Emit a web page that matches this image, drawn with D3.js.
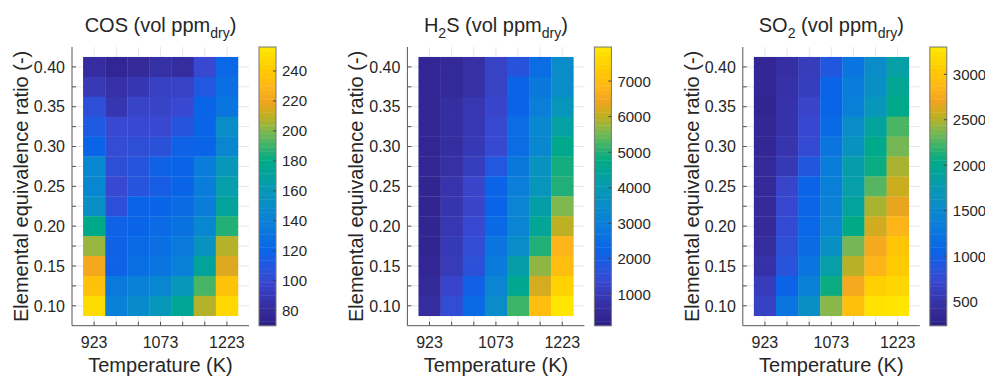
<!DOCTYPE html>
<html>
<head>
<meta charset="utf-8">
<script src="https://cdn.jsdelivr.net/npm/d3@7"></script>
<style>
  body { margin: 0; background: #fff; }
  text { font-family: "Liberation Sans", Arial, sans-serif; fill: #262626; }
</style>
</head>
<body>
<script>
// temperatures (K) along x, equivalence ratio rows listed from top (0.40) down to 0.10
var temps = [923, 973, 1023, 1073, 1123, 1173, 1223];
var ratios = [0.40, 0.375, 0.35, 0.325, 0.30, 0.275, 0.25, 0.225, 0.20, 0.175, 0.15, 0.125, 0.10];
var tempLabels = [923, 1073, 1223];
var ratioLabels = [0.10, 0.15, 0.20, 0.25, 0.30, 0.35, 0.40];

var cosValues = [
  [82, 76, 80, 84, 82, 100, 122],
  [90, 85, 88, 95, 96, 110, 128],
  [105, 88, 97, 97, 100, 120, 132],
  [112, 100, 100, 100, 108, 120, 150],
  [120, 102, 104, 106, 118, 120, 145],
  [145, 104, 108, 118, 120, 138, 158],
  [145, 100, 108, 115, 120, 138, 165],
  [152, 105, 120, 120, 125, 138, 172],
  [180, 118, 120, 125, 130, 145, 186],
  [204, 118, 124, 128, 135, 155, 208],
  [222, 118, 128, 132, 140, 172, 216],
  [235, 135, 140, 145, 158, 192, 236],
  [250, 140, 148, 158, 175, 208, 248]
];
var h2sValues = [
  [400, 500, 700, 1200, 1700, 2500, 3500],
  [400, 500, 700, 1200, 2200, 2800, 3500],
  [400, 650, 900, 1300, 2200, 3000, 3800],
  [400, 650, 900, 1400, 2500, 3300, 4300],
  [400, 650, 950, 1400, 2500, 3300, 4700],
  [400, 700, 1100, 1800, 2800, 3700, 4900],
  [350, 800, 1300, 2200, 3000, 3800, 5000],
  [350, 850, 1300, 2200, 3200, 4200, 5600],
  [350, 900, 1400, 2400, 3200, 4500, 6000],
  [350, 950, 1500, 2700, 3500, 5000, 6800],
  [400, 1000, 1600, 2900, 4200, 5700, 7000],
  [500, 1300, 2100, 3200, 4600, 6200, 7500],
  [600, 1500, 2400, 3500, 5200, 7000, 7900]
];
var so2Values = [
  [350, 450, 600, 900, 1250, 1550, 1850],
  [350, 480, 620, 1060, 1350, 1600, 1980],
  [320, 500, 700, 1060, 1380, 1700, 2030],
  [350, 500, 720, 1120, 1550, 1900, 2250],
  [350, 520, 750, 1250, 1650, 2030, 2350],
  [380, 560, 900, 1350, 1800, 2080, 2480],
  [380, 700, 1050, 1380, 1820, 2280, 2580],
  [400, 720, 1070, 1400, 1900, 2480, 2680],
  [400, 750, 1100, 1450, 2050, 2600, 2850],
  [420, 800, 1150, 1600, 2350, 2750, 3000],
  [480, 850, 1250, 1820, 2520, 2850, 3050],
  [600, 1050, 1400, 2080, 2750, 3100, 3150],
  [650, 1250, 1600, 2400, 2950, 3250, 3280]
];

var cosTicks = [80, 100, 120, 140, 160, 180, 200, 220, 240];
var h2sTicks = [1000, 2000, 3000, 4000, 5000, 6000, 7000];
var so2Ticks = [500, 1000, 1500, 2000, 2500, 3000];
var cosLimits = [70, 256];
var h2sLimits = [114, 7960];
var so2Limits = [235, 3300];

var panels = [
  { title: [["COS (vol ppm", 0], ["dry", 1], [")", 0]], values: cosValues, ticks: cosTicks, limits: cosLimits },
  { title: [["H", 0], ["2", 1], ["S (vol ppm", 0], ["dry", 1], [")", 0]], values: h2sValues, ticks: h2sTicks, limits: h2sLimits },
  { title: [["SO", 0], ["2", 1], [" (vol ppm", 0], ["dry", 1], [")", 0]], values: so2Values, ticks: so2Ticks, limits: so2Limits }
];

// parula-like colour map, tuned to the (saturated) picture
var stopT = [0, 0.054, 0.161, 0.22, 0.269, 0.376, 0.484, 0.591, 0.65, 0.699, 0.753, 0.806, 0.86, 0.914, 1];
var stopC = ["#2c1f88", "#352a9a", "#3848d0", "#2058e0", "#0a64e8", "#0a80d8", "#0898b8", "#00aa88",
  "#40b468", "#80b850", "#c0b020", "#f0a420", "#ffb818", "#ffc800", "#ffe800"];
var parula = d3.scaleLinear().domain(stopT).range(stopC).interpolate(d3.interpolateRgb).clamp(true);

var W = 985, H = 377;
var svg = d3.select("body").append("svg").attr("width", W).attr("height", H);

var axLeft = 72, axW = 177, axTop = 47, axBottom = 325.7, step = 335.4;
var cbGap = 10, cbW = 17;

panels.forEach(function(p, k) {
  var x0 = axLeft + k * step;
  var g = svg.append("g");

  var x = d3.scaleLinear().domain([873, 1273]).range([x0, x0 + axW]);
  var y = d3.scaleLinear().domain([0.075, 0.425]).range([axBottom, axTop]);
  var yTicks = d3.range(0.10, 0.4001, 0.025);

  // grid
  g.selectAll(".vg").data(temps).enter().append("line")
    .attr("x1", function(d) { return x(d); }).attr("x2", function(d) { return x(d); })
    .attr("y1", axTop).attr("y2", axBottom)
    .attr("stroke", "#e6e6e6").attr("stroke-width", 1);
  g.selectAll(".hg").data(yTicks).enter().append("line")
    .attr("x1", x0).attr("x2", x0 + axW)
    .attr("y1", function(d) { return y(d); }).attr("y2", function(d) { return y(d); })
    .attr("stroke", "#e6e6e6").attr("stroke-width", 1);

  // cells
  var t = d3.scaleLinear().domain(p.limits).range([0, 1]);
  var cells = [];
  p.values.forEach(function(row, i) {
    row.forEach(function(v, j) { cells.push({ T: temps[j], r: ratios[i], v: v }); });
  });
  g.selectAll(".cell").data(cells).enter().append("rect")
    .attr("x", function(d) { return x(d.T - 25); })
    .attr("y", function(d) { return y(d.r + 0.0125); })
    .attr("width", function(d) { return x(d.T + 25) - x(d.T - 25) + 0.3; })
    .attr("height", function(d) { return y(d.r - 0.0125) - y(d.r + 0.0125) + 0.3; })
    .attr("fill", function(d) { return parula(t(d.v)); });

  // axes lines
  g.append("line").attr("x1", x0).attr("x2", x0).attr("y1", axTop).attr("y2", axBottom)
    .attr("stroke", "#555").attr("stroke-width", 1);
  g.append("line").attr("x1", x0).attr("x2", x0 + axW).attr("y1", axBottom).attr("y2", axBottom)
    .attr("stroke", "#555").attr("stroke-width", 1);

  // inward ticks
  g.selectAll(".xt").data(temps).enter().append("line")
    .attr("x1", function(d) { return x(d); }).attr("x2", function(d) { return x(d); })
    .attr("y1", axBottom).attr("y2", axBottom - 4).attr("stroke", "#555");
  g.selectAll(".yt").data(yTicks).enter().append("line")
    .attr("x1", x0).attr("x2", x0 + 4)
    .attr("y1", function(d) { return y(d); }).attr("y2", function(d) { return y(d); })
    .attr("stroke", "#555");

  g.selectAll(".xl").data(tempLabels).enter().append("text")
    .attr("x", function(d) { return x(d); }).attr("y", 348)
    .attr("text-anchor", "middle").style("font-size", "16px")
    .text(function(d) { return d; });
  g.selectAll(".yl").data(ratioLabels).enter().append("text")
    .attr("x", x0 - 7).attr("y", function(d) { return y(d); }).attr("dy", "0.36em")
    .attr("text-anchor", "end").style("font-size", "16px")
    .text(function(d) { return d3.format(".2f")(d); });

  g.append("text").attr("x", x0 + axW / 2).attr("y", 372)
    .attr("text-anchor", "middle").style("font-size", "20px").text("Temperature (K)");
  g.append("text").attr("transform", "translate(" + (x0 - 44) + "," + ((axTop + axBottom) / 2) + ") rotate(-90)")
    .attr("text-anchor", "middle").style("font-size", "20px").text("Elemental equivalence ratio (-)");

  // title with subscripts
  var title = g.append("text").attr("x", x0 + axW / 2).attr("y", 32)
    .attr("text-anchor", "middle").style("font-size", "20px");
  var shift = 0;
  p.title.forEach(function(part) {
    var sub = part[1];
    var dy = sub ? 6 - shift : -shift;
    shift = sub ? 6 : 0;
    title.append("tspan").attr("dy", dy).style("font-size", sub ? "14px" : "20px").text(part[0]);
  });

  // colour bar
  var cx = x0 + axW + cbGap;
  var cy = d3.scaleLinear().domain(p.limits).range([axBottom, axTop]);
  var levels = d3.range(64);
  var lv = d3.scaleLinear().domain([0, 64]).range(p.limits);
  g.selectAll(".cb").data(levels).enter().append("rect")
    .attr("x", cx).attr("width", cbW)
    .attr("y", function(d) { return cy(lv(d + 1)); })
    .attr("height", function(d) { return cy(lv(d)) - cy(lv(d + 1)) + 0.4; })
    .attr("fill", function(d) { return parula((d + 0.5) / 64); });
  g.append("rect").attr("x", cx).attr("y", axTop).attr("width", cbW).attr("height", axBottom - axTop)
    .attr("fill", "none").attr("stroke", "#777").attr("stroke-width", 1);
  g.selectAll(".cbt").data(p.ticks).enter().append("line")
    .attr("x1", cx + cbW - 3).attr("x2", cx + cbW)
    .attr("y1", function(d) { return cy(d); }).attr("y2", function(d) { return cy(d); })
    .attr("stroke", "#444");
  g.selectAll(".cbl").data(p.ticks).enter().append("text")
    .attr("x", cx + cbW + 6).attr("y", function(d) { return cy(d); }).attr("dy", "0.36em")
    .style("font-size", "15px")
    .text(function(d) { return d; });
});
</script>
</body>
</html>
